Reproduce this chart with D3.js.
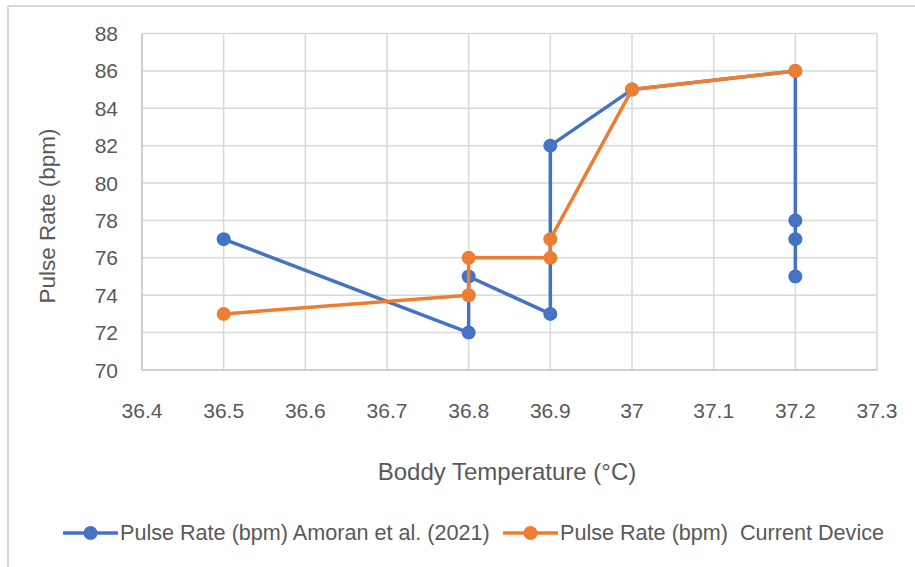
<!DOCTYPE html>
<html><head><meta charset="utf-8">
<script src="https://cdn.jsdelivr.net/npm/d3@7"></script>
<style>html,body{margin:0;padding:0;background:#fff;}svg{display:block;font-family:"Liberation Sans",Arial,sans-serif;}text{white-space:pre;}</style>
</head><body>
<svg id="c" width="915" height="567"></svg>
<script>
const xTicks = [36.4,36.5,36.6,36.7,36.8,36.9,37,37.1,37.2,37.3];
const yTicks = [70,72,74,76,78,80,82,84,86,88];
const amoranTemp = [36.5,36.8,36.8,36.9,36.9,37,37.2,37.2,37.2,37.2];
const amoranPulse = [77,72,75,73,82,85,86,78,77,75];
const deviceTemp = [36.5,36.8,36.8,36.9,36.9,37,37.2];
const devicePulse = [73,74,76,76,77,85,86];
const seriesNames = ["Pulse Rate (bpm) Amoran et al. (2021)","Pulse Rate (bpm)  Current Device"];
const colors = ["#4472C4","#ED7D31"];
const xTitle = "Boddy Temperature (°C)";
const yTitle = "Pulse Rate (bpm)";

const svg = d3.select("#c");
const L=142,R=877,T=33.5,B=370;
const x = d3.scaleLinear().domain([36.4,37.3]).range([L,R]);
const y = d3.scaleLinear().domain([70,88]).range([B,T]);

// chart border (partial, cropped)
svg.append("line").attr("x1",8).attr("x2",915).attr("y1",6).attr("y2",6).attr("stroke","#d9d9d9").attr("stroke-width",2);
svg.append("line").attr("x1",8).attr("x2",8).attr("y1",6).attr("y2",567).attr("stroke","#d9d9d9").attr("stroke-width",2);

// gridlines
svg.append("g").selectAll("line").data(yTicks.filter(d=>d>70)).join("line")
  .attr("x1",L).attr("x2",R).attr("y1",d=>y(d)).attr("y2",d=>y(d))
  .attr("stroke","#d9d9d9").attr("stroke-width",1.5);
svg.append("g").selectAll("line").data(xTicks.filter(d=>d>36.4)).join("line")
  .attr("x1",d=>x(d)).attr("x2",d=>x(d)).attr("y1",T).attr("y2",B)
  .attr("stroke","#d9d9d9").attr("stroke-width",1.5);
// axes lines
svg.append("line").attr("x1",L).attr("x2",L).attr("y1",T).attr("y2",B).attr("stroke","#bfbfbf").attr("stroke-width",1.5);
svg.append("line").attr("x1",L).attr("x2",R).attr("y1",B).attr("y2",B).attr("stroke","#bfbfbf").attr("stroke-width",1.5);

// tick labels
svg.append("g").selectAll("text").data(yTicks).join("text")
  .attr("x",118).attr("y",d=>y(d)).attr("dy","0.36em").attr("text-anchor","end")
  .attr("font-size",21).attr("fill","#595959").text(d=>d);
svg.append("g").selectAll("text").data(xTicks).join("text")
  .attr("x",d=>x(d)).attr("y",418).attr("text-anchor","middle")
  .attr("font-size",21).attr("fill","#595959").text(d=>d);

// titles
svg.append("text").attr("x",507).attr("y",480).attr("text-anchor","middle")
  .attr("font-size",24).attr("fill","#595959").text(xTitle);
svg.append("text").attr("transform","translate(55,216) rotate(-90)").attr("text-anchor","middle")
  .attr("font-size",22.5).attr("fill","#595959").text(yTitle);

// series
const line = d3.line().x(d=>x(d[0])).y(d=>y(d[1]));
const series = [d3.zip(amoranTemp,amoranPulse), d3.zip(deviceTemp,devicePulse)];
series.forEach((s,i)=>{
  const g = svg.append("g");
  g.append("path").attr("d",line(s)).attr("fill","none").attr("stroke",colors[i]).attr("stroke-width",3.5).attr("stroke-linejoin","round");
  g.selectAll("circle").data(s).join("circle").attr("cx",d=>x(d[0])).attr("cy",d=>y(d[1])).attr("r",7).attr("fill",colors[i]);
});

// legend
const legX = [63,503];
seriesNames.forEach((n,i)=>{
  const g = svg.append("g");
  g.append("line").attr("x1",legX[i]).attr("x2",legX[i]+55).attr("y1",533).attr("y2",533).attr("stroke",colors[i]).attr("stroke-width",3.5);
  g.append("circle").attr("cx",legX[i]+27.5).attr("cy",533).attr("r",7).attr("fill",colors[i]);
  g.append("text").attr("x",legX[i]+57).attr("y",540).attr("font-size",21.6).attr("fill","#595959").text(n);
});
</script>
</body></html>
